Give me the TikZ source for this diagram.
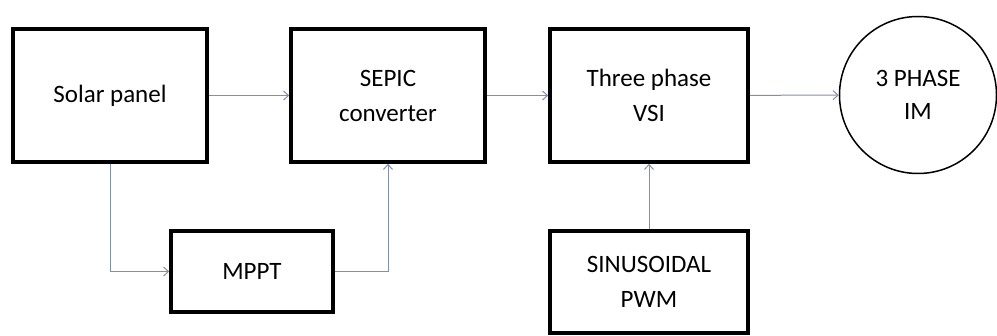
\documentclass[tikz,border=0pt]{standalone}
\usepackage{fontspec}
\setmainfont{Carlito}
\usetikzlibrary{arrows.meta}
\definecolor{wire}{RGB}{128,144,170}
\begin{document}
\begin{tikzpicture}[
        x=1pt, y=-1pt,
        block/.style={
            rectangle,
            draw=black,
            fill=white,
            line width=3.5pt,
            inner sep=0pt,
            align=center,
            font=\fontsize{25}{35}\selectfont
        },
        motor/.style={
            circle,
            draw=black,
            fill=white,
            line width=1.5pt,
            minimum size=157pt,
            inner sep=0pt,
            align=center,
            font=\fontsize{25}{33}\selectfont
        },
        link/.style={
            draw=wire,
            line width=1pt,
            -{Straight Barb[length=5pt,width=9pt]}
        }
    ]

    \useasboundingbox (0,0) rectangle (997,336);

    % Bloques
    \node[block, minimum width=194pt, minimum height=133pt]
        (solar) at (110,95.5) {Solar panel};

    \node[block, minimum width=194pt, minimum height=133pt]
        (sepic) at (388,95.5) {SEPIC\\converter};

    \node[block, minimum width=198pt, minimum height=133pt]
        (vsi) at (649,95.5) {Three phase\\VSI};

    \node[block, minimum width=162pt, minimum height=81pt]
        (mppt) at (252,271.5) {MPPT};

    \node[block, minimum width=198pt, minimum height=102pt]
        (pwm) at (649,282) {SINUSOIDAL\\PWM};

    \node[motor]
        (im) at (918,95) {3 PHASE\\IM};

    % Conexiones
    \draw[link] (solar) -- (sepic);
    \draw[link] (sepic) -- (vsi);
    \draw[link] (vsi) -- (im);
    \draw[link] (solar.south) |- (mppt.west);
    \draw[link] (mppt.east) -| (sepic.south);
    \draw[link] (pwm) -- (vsi);

    \end{tikzpicture}
\end{document}
